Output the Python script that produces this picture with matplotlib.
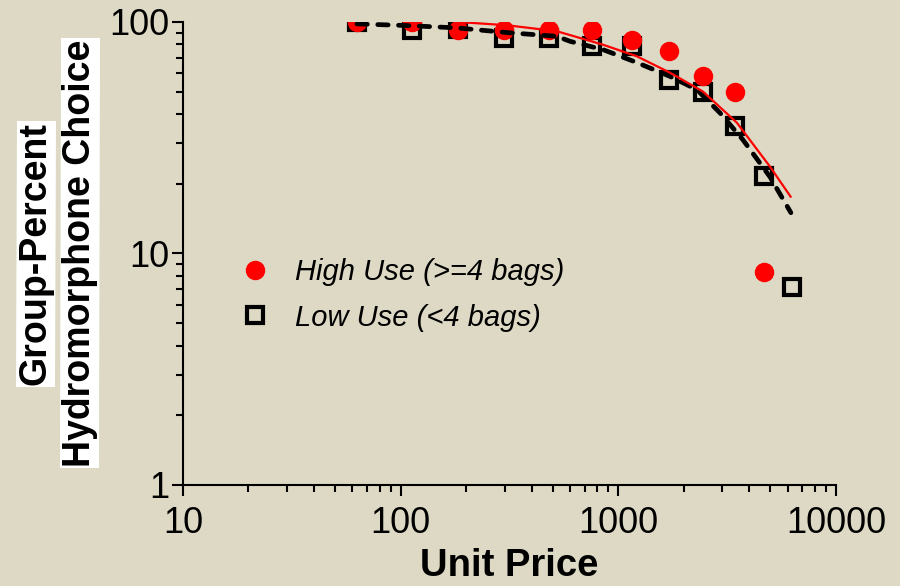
import matplotlib
matplotlib.use("Agg")
import matplotlib.pyplot as plt
import numpy as np

# ---- data ----
price = [63, 113, 184, 297, 478, 754, 1150, 1707, 2447, 3434, 4677, 6251]
high_use = [100, 100, 92, 92, 92, 92, 84, 75, 58.5, 50, 8.3]          # first 11 prices
low_use = [100, 92.7, 93.3, 85.3, 85.3, 78.5, 78.5, 56.4, 50, 35.6, 21.7, 7.2]

# fitted demand curves
high_fit_x = [183, 308, 522, 849, 1216, 1726, 2445, 3505, 4978, 6184]
high_fit_y = [100, 96.8, 91.2, 79.8, 71.1, 60.4, 50.1, 36.7, 23.7, 17.6]
low_fit_x = [63, 107, 181, 308, 522, 600, 849, 1216, 1726, 2296, 2930, 3735, 4978, 6205]
low_fit_y = [98.1, 96.5, 94.3, 90, 86.7, 82.5, 76, 66.8, 58.2, 51, 40.5, 31, 21.4, 15]

x_ticks = [10, 100, 1000, 10000]
y_ticks = [1, 10, 100]
labels = ["High Use (>=4 bags)", "Low Use (<4 bags)"]

BG = "#DDD9C4"
plt.rcParams["font.family"] = ["Liberation Sans", "DejaVu Sans"]

fig = plt.figure(figsize=(9, 5.86), dpi=100, facecolor=BG)
ax = fig.add_axes([0.2033, 0.1724, 0.7256, 0.7901], facecolor=BG)

ax.plot(price[:len(low_use)], low_use, linestyle="none", marker="s", ms=11,
        mfc="none", mec="black", mew=3, zorder=3, label=labels[1])
ax.plot(price[:len(high_use)], high_use, linestyle="none", marker="o", ms=13,
        mfc="#FF0000", mec="#FF0000", zorder=4, label=labels[0])
ax.plot(low_fit_x, low_fit_y, color="black", lw=3.4, linestyle=(0, (2.2, 2.2)),
        dash_capstyle="round", zorder=5)
ax.plot(high_fit_x, high_fit_y, color="#FF0000", lw=1.6, zorder=6)

ax.set_xscale("log")
ax.set_yscale("log")
ax.set_xlim(10, 10000)
ax.set_ylim(1, 100)
ax.set_xticks(x_ticks)
ax.set_xticklabels([str(v) for v in x_ticks])
ax.set_yticks(y_ticks)
ax.set_yticklabels([str(v) for v in y_ticks])

for s in ["top", "right"]:
    ax.spines[s].set_visible(False)
for s in ["left", "bottom"]:
    ax.spines[s].set_linewidth(1.5)
    ax.spines[s].set_color("black")

ax.tick_params(which="major", length=8, width=1.5, labelsize=26, color="black")
ax.tick_params(which="minor", length=5, width=1.5, color="black")
ax.tick_params(axis="y", which="major", pad=2)
ax.tick_params(axis="x", which="major", pad=7)

ax.set_xlabel("Unit Price", fontsize=27.5, fontweight="bold", labelpad=5)

fig.text(36 / 900, 1 - 254 / 586, "Group-Percent", rotation=90, fontsize=27,
         fontweight="bold", ha="center", va="center",
         bbox=dict(facecolor="white", edgecolor="none", pad=1))
fig.text(80 / 900, 1 - 253 / 586, "Hydromorphone Choice", rotation=90, fontsize=27,
         fontweight="bold", ha="center", va="center",
         bbox=dict(facecolor="white", edgecolor="none", pad=1))

handles, labs = ax.get_legend_handles_labels()
order = [1, 0]
leg = ax.legend([handles[i] for i in order], [labs[i] for i in order],
                loc="upper left", bbox_to_anchor=(0.066, 0.515), frameon=False,
                prop={"size": 21, "style": "italic"}, handletextpad=0.75,
                labelspacing=0.6, handlelength=1.2, borderaxespad=0)

fig.savefig("out.png", dpi=100, facecolor=BG)
